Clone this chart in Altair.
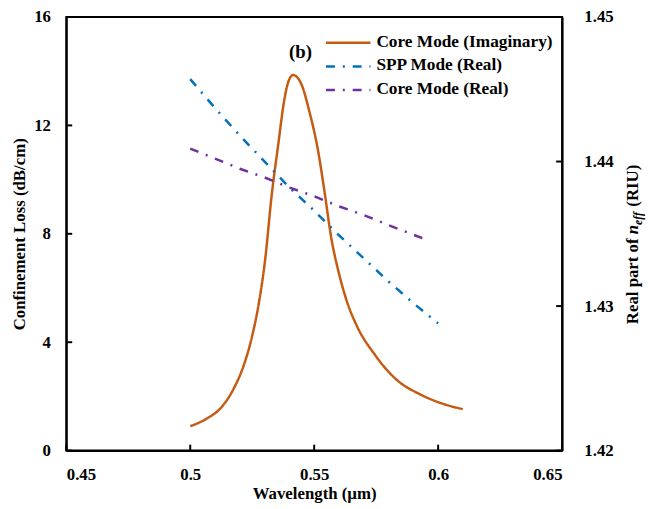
import altair as alt
import pandas as pd

# ---------------- data ----------------
series_names = ["Core Mode (Imaginary)", "SPP Mode (Real)", "Core Mode (Real)"]
series_colors = ["#C55A11", "#0070C0", "#7030A0"]

wl_core_imag = [0.500, 0.507, 0.5123, 0.5176, 0.5216, 0.5249, 0.5276, 0.5302, 0.5329,
                0.5355, 0.5378, 0.5395, 0.5415, 0.5448, 0.5481, 0.5515, 0.5541, 0.5568,
                0.5601, 0.5634, 0.5667, 0.5747, 0.5827, 0.5933, 0.6012, 0.6099]
loss_core_imag = [0.90, 1.20, 1.57, 2.30, 3.15, 4.20, 5.40, 7.03, 9.46,
                  11.29, 12.86, 13.59, 13.86, 13.53, 12.50, 11.10, 9.60, 7.90,
                  6.50, 5.45, 4.70, 3.51, 2.66, 2.05, 1.75, 1.53]

wl_spp = [0.50, 0.51, 0.52, 0.53, 0.54, 0.55, 0.56, 0.57, 0.58, 0.59, 0.60]
neff_spp = [1.4457, 1.4437, 1.4418, 1.4400, 1.4382, 1.4366, 1.4349, 1.4333, 1.4317, 1.4302, 1.4288]

wl_core_real = [0.50, 0.51, 0.52, 0.53, 0.54, 0.55, 0.56, 0.57, 0.58, 0.5966]
neff_core_real = [1.4409, 1.4402, 1.4395, 1.4389, 1.4382, 1.4376, 1.4369, 1.4363, 1.4356, 1.4345]

x_ticks = [0.45, 0.50, 0.55, 0.60, 0.65]
left_ticks = [0, 4, 8, 12, 16]
right_ticks = [1.42, 1.43, 1.44, 1.45]

# ---------------- layout / style ----------------
W, H = 502, 439
FONT = "Liberation Serif"
FS = 17
DASHDOT = [9, 8, 2, 8]
dashes = [[1, 0], DASHDOT, DASHDOT]

df_left = pd.DataFrame({"wl": wl_core_imag, "val": loss_core_imag, "series": series_names[0]})
df_right = pd.concat([
    pd.DataFrame({"wl": wl_spp, "n": neff_spp, "series": series_names[1]}),
    pd.DataFrame({"wl": wl_core_real, "n": neff_core_real, "series": series_names[2]}),
], ignore_index=True)

x_enc = alt.X("wl:Q", scale=alt.Scale(domain=[0.45, 0.65], nice=False, zero=False),
              axis=alt.Axis(values=x_ticks, format="~g", title="Wavelength (µm)",
                            ticks=False, labelPadding=16, titlePadding=4, grid=False))
y_left = alt.Y("val:Q", scale=alt.Scale(domain=[0, 16], nice=False, zero=False),
               axis=alt.Axis(values=left_ticks, format="~g", title="Confinement Loss (dB/cm)",
                             orient="left", ticks=False, labelPadding=16, titlePadding=5, grid=False))
y_right = alt.Y("n:Q", scale=alt.Scale(domain=[1.42, 1.45], nice=False, zero=False),
                axis=alt.Axis(values=right_ticks, format=".2f", title=None,
                              orient="right", ticks=False, labelPadding=22, grid=False))

color = alt.Color("series:N", scale=alt.Scale(domain=series_names, range=series_colors), legend=None)
sdash = alt.StrokeDash("series:N", scale=alt.Scale(domain=series_names, range=dashes), legend=None)

orange = alt.Chart(df_left).mark_line(strokeWidth=2.5, interpolate="monotone").encode(
    x=x_enc, y=y_left, color=color, strokeDash=sdash)

left_tick_marks = alt.Chart(pd.DataFrame({"val": left_ticks})).mark_rule(
    color="black", strokeWidth=2).encode(y=y_left, x=alt.value(0), x2=alt.value(6))
bottom_tick_marks = alt.Chart(pd.DataFrame({"wl": x_ticks})).mark_rule(
    color="black", strokeWidth=2).encode(x=x_enc, y=alt.value(H - 6), y2=alt.value(H))

label_b = alt.Chart(pd.DataFrame({"wl": [0.5445], "val": [14.72], "t": ["(b)"]})).mark_text(
    font=FONT, fontSize=19, fontWeight="bold", color="black", baseline="middle").encode(
    x=x_enc, y=y_left, text="t:N")

left_layer = alt.layer(orange, left_tick_marks, bottom_tick_marks, label_b)

right_lines = alt.Chart(df_right).mark_line(strokeWidth=2.5).encode(
    x=x_enc, y=y_right, color=color, strokeDash=sdash, detail="series:N")
right_tick_marks = alt.Chart(pd.DataFrame({"n": right_ticks})).mark_rule(
    color="black", strokeWidth=2).encode(y=y_right, x=alt.value(W - 6), x2=alt.value(W))

right_layer = alt.layer(right_lines, right_tick_marks)

# manual legend
legend_layers = []
for i, (name, col, dsh) in enumerate(zip(series_names, series_colors, dashes)):
    yy = 25 + i * 24
    legend_layers.append(alt.Chart(pd.DataFrame({"a": [0]})).mark_rule(
        color=col, strokeWidth=2.5, strokeDash=dsh).encode(
        x=alt.value(263), x2=alt.value(308), y=alt.value(yy + 1)))
    legend_layers.append(alt.Chart(pd.DataFrame({"a": [0]})).mark_text(
        text=name, font=FONT, fontSize=17.5, fontWeight="bold", color="black",
        align="left", baseline="middle").encode(x=alt.value(314), y=alt.value(yy)))

# right axis title with italic n_eff
title_x = W + 77
y0 = 311
title_parts = [
    ("Real part of", "normal", FS, 0, 0),
    ("n", "italic", FS, 91, 0),
    ("eff", "italic", 12, 100.5, 4),
    ("(RIU)", "normal", FS, 119, 0),
]
title_layers = []
for txt, style, size, off, sub in title_parts:
    title_layers.append(alt.Chart(pd.DataFrame({"a": [0]})).mark_text(
        text=txt, font=FONT, fontSize=size, fontWeight="bold", fontStyle=style,
        color="black", angle=270, align="left", baseline="alphabetic", dy=sub).encode(
        x=alt.value(title_x), y=alt.value(y0 - off)))

chart = alt.layer(left_layer, right_layer, *legend_layers, *title_layers).resolve_scale(
    y="independent"
).properties(
    width=W, height=H,
    autosize=alt.AutoSizeParams(type="none"),
    padding={"left": 59, "top": 6, "right": 88, "bottom": 56},
).configure(
    background="white"
).configure_view(
    stroke="black", strokeWidth=2
).configure_axis(
    labelFont=FONT, labelFontSize=FS, labelFontWeight="bold", labelColor="black",
    titleFont=FONT, titleFontSize=FS, titleFontWeight="bold", titleColor="black",
    domainColor="black", domainWidth=2,
)

chart.save("out.html", embed_options={"renderer": "svg", "actions": False})
